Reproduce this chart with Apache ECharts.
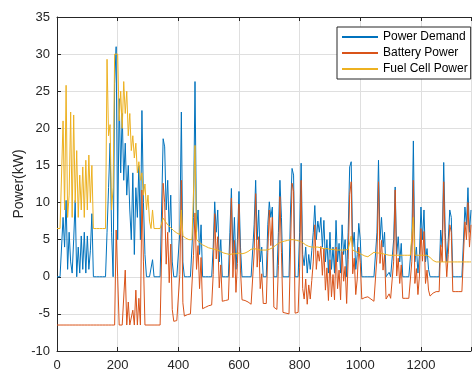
<!DOCTYPE html>
<html>
<head>
<meta charset="utf-8">
<script src="https://cdn.jsdelivr.net/npm/echarts@6/dist/echarts.min.js"></script>
<style>
  html, body { margin: 0; padding: 0; background: #fff; }
  #chart { width: 474px; height: 372px; }
</style>
</head>
<body>
<div id="chart"></div>
<script>
const dt = 5;

// power demand (kW)
const demand = [
  0, 0, 0, 0, 8, 4, 10.3, 1, 6, 2,
  0.5, 5, 10.3, 0, 4, 0.5, 5.5, 1, 6, 0.5,
  5.5, 1, 3.5, 8.5, 0, 0, 0, 0, 0, 0,
  0, 0, 0, 6, 12, 18, 6, 0, 26, 31,
  5, 24, 14, 22, 13, 18, 11, 15, 9, 5,
  14, 3, 12, 8, 15, 5, 22.4, 10, 3, 0,
  0, 0, 0, 2.3, 0, 0, 0, 0, 0, 0,
  18.6, 17.5, 9, 13, 6, 11, 2, 0, 0, 0,
  0, 6, 22.2, 2, 0, 0, 0, 0, 0, 0,
  8, 26.3, 6, 9, 3, 7, 0, 0, 0, 0,
  0, 0, 0, 4, 10.1, 6, 9, 2, 5, 0,
  0, 0, 0, 0, 6, 11.9, 3, 8, 1, 5,
  11.5, 4, 0, 0, 0, 0, 0, 0, 0, 0,
  7, 13, 5, 9, 2, 4, 0, 0, 0, 7,
  10.1, 8, 9.4, 0, 0, 0, 6, 13, 8, 0,
  0, 0, 0, 0, 9, 14.6, 13.7, 0, 0, 0,
  6, 15.3, 3, 1.5, 4, 0.5, 3, 1, 3.5, 6,
  9.6, 5, 7.5, 6, 8, 4, 7.6, 2, 5, 0.5,
  6, 1, 4, 0.5, 7.6, 2, 4.5, 0.5, 7, 3,
  5, 0, 6, 14.8, 15.5, 4, 6, 1, 3, 7.2,
  5, 0, 0, 0, 0, 0, 0, 0, 0, 0,
  0, 6, 15.7, 5, 8, 4, 6, 0, 0, 0.6,
  0, 0, 5, 12.1, 3, 5.4, 2, 4.5, 0, 0,
  0, 0, 0, 0, 5, 18.3, 2, 4, 0.5, 3,
  9.4, 5, 9, 2, 3.8, 1, 0, 0, 0, 0,
  0, 0, 0, 6.3, 4, 15.4, 6, 2, 5, 9,
  8, 0, 0, 0, 0, 0, 0, 0, 0, 9.4,
  7, 12, 6, 9
];

// battery power (kW)
const battery = [
  -6.5, -6.5, -6.5, -6.5, -6.5, -6.5, -6.5, -6.5, -6.5, -6.5,
  -6.5, -6.5, -6.5, -6.5, -6.5, -6.5, -6.5, -6.5, -6.5, -6.5,
  -6.5, -6.5, -6.5, -6.5, -6.5, -6.5, -6.5, -6.5, -6.5, -6.5,
  -6.5, -6.5, -6.5, -6.5, -6.5, -6.5, -6.5, -6.5, -6.5, 6.3,
  0, -6.5, -6.5, -6.5, -6.5, 0.9, -6.5, -3.4, -6.5, -6.5,
  -4.5, -6.5, -1.8, -6.5, -2.9, -6.5, 11.7, 2, -6.5, -6.5,
  -6.5, -6.5, -6.5, -6.3, -6.5, -6.5, -6.5, -6.5, -6.5, -6.5,
  12.6, 10, 1.7, 6, -0.8, 4.4, -4.4, -6.0, -6.0, -5.9,
  -5.8, 0.3, 13, -3.5, -5.3, -5.2, -5.1, -5.0, -5.0, -5.0,
  2.9, 8.6, 1, 4.2, -1.6, 2.6, -4.3, -4.2, -4.1, -4.0,
  -3.9, -3.8, -3.8, 0.3, 8.5, 2.4, 5.4, -1.5, 1.6, -3.3,
  -3.2, -3.2, -3.1, -3.1, 3, 10.6, -0.1, 4.9, -2.1, 1.8,
  9.8, 0.9, -3.1, -3.1, -3.2, -3.3, -3.4, -3.6, -3.7, -3.8,
  3.2, 11.2, 1.3, 5.4, -1.6, 0.4, -3.6, -3.6, -3.6, 3.3,
  9, 4.2, 8, -4.1, -4.2, -4.4, 1.5, 10.8, 3.3, -4.8,
  -4.8, -4.9, -4.9, -5.0, 4, 12.6, 11.5, -4.9, -4.9, -4.8,
  1.2, 13, -1.6, -3, -0.3, -3.7, -1.1, -3, -0.5, 2,
  7, 1, 3.5, 2.1, 4.1, 0.2, 3.8, -1.8, 1.2, -3.2,
  2.3, -2.7, 0.3, -3.1, 4, -1.6, 0.9, -3.1, 3.4, -0.6,
  1.4, -3.6, 2.3, 11.1, 12.8, 0.4, 2.5, -2.4, -0.3, 4,
  1.9, -3.0, -2.9, -2.8, -2.7, -2.7, -2.8, -3.0, -3.2, -3.3,
  -3.3, 2.8, 12.8, 1.8, 4.9, 0.9, 3, -3.0, -2.9, -2.3,
  -2.9, -2.9, 2.1, 11.7, 0.1, 2.5, -0.9, 1.6, -2.9, -2.9,
  -2.9, -2.9, -2.9, -2.9, 2.1, 13, -0.9, 1.1, -2.4, 0.1,
  6.5, 2.1, 6.1, -0.9, 0.9, -1.8, -2.6, -2.4, -2.2, -2.1,
  -2.0, -2.0, -2.0, 4.3, 2, 12.8, 4, 0, 3, 7,
  6, -2.0, -2.0, -2.0, -2.0, -2.0, -2.0, -2.0, -2.0, 7.4,
  5, 10, 4, 7
];

// fuel cell power (kW)
const fuelCell = [
  6.5, 6.5, 6.5, 6.5, 21, 9, 25.8, 8, 11, 22.2,
  8, 21.8, 10, 17, 8, 13.7, 9, 14.8, 8, 15.7,
  9, 16.4, 10, 15, 6.5, 6.5, 6.5, 6.5, 6.5, 6.5,
  6.5, 6.5, 6.5, 29.3, 19, 20.5, 9, 12, 30, 30,
  30, 21, 25, 20, 26.3, 22, 25, 19, 22, 17,
  19, 16, 18, 14, 15.5, 13, 14, 11, 12.5, 9,
  11, 7.5, 6.5, 9, 6.5, 6.5, 6.5, 6.5, 6.5, 6.5,
  7.9, 7.6, 7.3, 7.0, 6.8, 6.6, 6.4, 6.2, 6.0, 5.9,
  5.8, 5.7, 9, 5.5, 5.3, 5.2, 5.1, 5.0, 5.0, 5.0,
  5.1, 17.7, 5.0, 4.8, 4.6, 4.4, 4.3, 4.2, 4.1, 4.0,
  3.9, 3.8, 3.8, 3.7, 3.7, 3.6, 3.6, 3.5, 3.4, 3.3,
  3.2, 3.2, 3.1, 3.1, 3.0, 3.0, 3.1, 3.1, 3.1, 3.2,
  3.2, 3.1, 3.1, 3.1, 3.2, 3.3, 3.4, 3.6, 3.7, 3.8,
  3.8, 3.7, 3.7, 3.6, 3.6, 3.6, 3.6, 3.6, 3.6, 3.7,
  3.7, 3.8, 3.9, 4.1, 4.2, 4.4, 4.5, 4.6, 4.7, 4.8,
  4.8, 4.9, 4.9, 5.0, 5.0, 5.0, 5.0, 4.9, 4.9, 4.8,
  4.8, 4.7, 4.6, 4.5, 4.3, 4.2, 4.1, 4.0, 4.0, 4.0,
  4.0, 4.0, 4.0, 3.9, 3.9, 3.8, 3.8, 3.8, 3.8, 3.7,
  3.7, 3.7, 3.7, 3.6, 3.6, 3.6, 3.6, 3.6, 3.6, 3.6,
  3.6, 3.6, 3.7, 3.7, 5.5, 3.6, 3.5, 3.4, 3.3, 3.2,
  3.1, 3.0, 2.9, 2.8, 2.7, 2.7, 2.8, 3.0, 3.2, 3.3,
  3.3, 3.2, 3.2, 3.2, 3.1, 3.1, 3.0, 3.0, 2.9, 2.9,
  2.9, 2.9, 2.9, 2.9, 2.9, 2.9, 2.9, 2.9, 2.9, 2.9,
  2.9, 2.9, 2.9, 2.9, 2.9, 8.0, 2.9, 2.9, 2.9, 2.9,
  2.9, 2.9, 2.9, 2.9, 2.9, 2.8, 2.6, 2.4, 2.2, 2.1,
  2.0, 2.0, 2.0, 2.0, 2.0, 2.0, 2.0, 2.0, 2.0, 2.0,
  2.0, 2.0, 2.0, 2.0, 2.0, 2.0, 2.0, 2.0, 2.0, 2.0,
  2.0, 2.0, 2.0, 2.0
];

const seriesNames = ['Power Demand', 'Battery Power', 'Fuel Cell Power'];
const seriesColors = ['#0072BD', '#D95319', '#EDB120'];

const xTicks = { min: 0, max: 1365, interval: 200 };
const yTicks = { min: -10, max: 35, interval: 5 };

const font = 'Liberation Sans, Arial, Helvetica, sans-serif';
const axisColor = '#262626';
const gridColor = '#dfdfdf';

function pairs(values) {
  return values.map((v, i) => [i * dt, v]);
}

const chart = echarts.init(document.getElementById('chart'), null, { renderer: 'canvas' });

const option = {
  animation: false,
  backgroundColor: '#fff',
  textStyle: { fontFamily: font },
  grid: { left: 57, right: -4, top: 17, bottom: 21, containLabel: false },
  legend: {
    orient: 'vertical',
    left: 337,
    top: 27,
    padding: [3, 3, 3, 5],
    icon: 'rect',
    itemWidth: 36,
    itemHeight: 2,
    itemGap: 2,
    backgroundColor: '#fff',
    borderColor: axisColor,
    borderWidth: 1,
    borderRadius: 0,
    textStyle: { fontSize: 12, lineHeight: 14, color: '#000', fontFamily: font },
    data: seriesNames
  },
  xAxis: [{
    type: 'value',
    min: xTicks.min,
    max: xTicks.max,
    interval: xTicks.interval,
    position: 'bottom',
    axisLine: { onZero: false, lineStyle: { color: axisColor, width: 1 } },
    axisTick: { inside: true, length: 4, lineStyle: { color: axisColor } },
    axisLabel: {
      color: axisColor, fontSize: 13, margin: 8, fontFamily: font,
      formatter: v => (v % 200 === 0 ? String(v) : '')
    },
    splitLine: { show: true, lineStyle: { color: gridColor, width: 1 } }
  }, {
    type: 'value',
    min: xTicks.min,
    max: xTicks.max,
    interval: xTicks.interval,
    position: 'top',
    axisLine: { onZero: false, lineStyle: { color: axisColor, width: 1 } },
    axisTick: { inside: true, length: 4, lineStyle: { color: axisColor } },
    axisLabel: { show: false },
    splitLine: { show: false }
  }],
  yAxis: {
    type: 'value',
    min: yTicks.min,
    max: yTicks.max,
    interval: yTicks.interval,
    name: 'Power(kW)',
    nameLocation: 'middle',
    nameGap: 31,
    nameMoveOverlap: false,
    nameTextStyle: { color: axisColor, fontSize: 14, fontFamily: font },
    axisLine: { show: true, onZero: false, lineStyle: { color: axisColor, width: 1 } },
    axisTick: { show: true, inside: true, length: 4, lineStyle: { color: axisColor } },
    axisLabel: { color: axisColor, fontSize: 13, margin: 7, fontFamily: font },
    splitLine: { show: true, lineStyle: { color: gridColor, width: 1 } }
  },
  series: [demand, battery, fuelCell].map((vals, k) => ({
    name: seriesNames[k],
    type: 'line',
    data: pairs(vals),
    symbol: 'none',
    showSymbol: false,
    lineStyle: { color: seriesColors[k], width: 1 },
    itemStyle: { color: seriesColors[k] },
    emphasis: { disabled: true }
  }))
};

chart.setOption(option);
</script>
</body>
</html>
